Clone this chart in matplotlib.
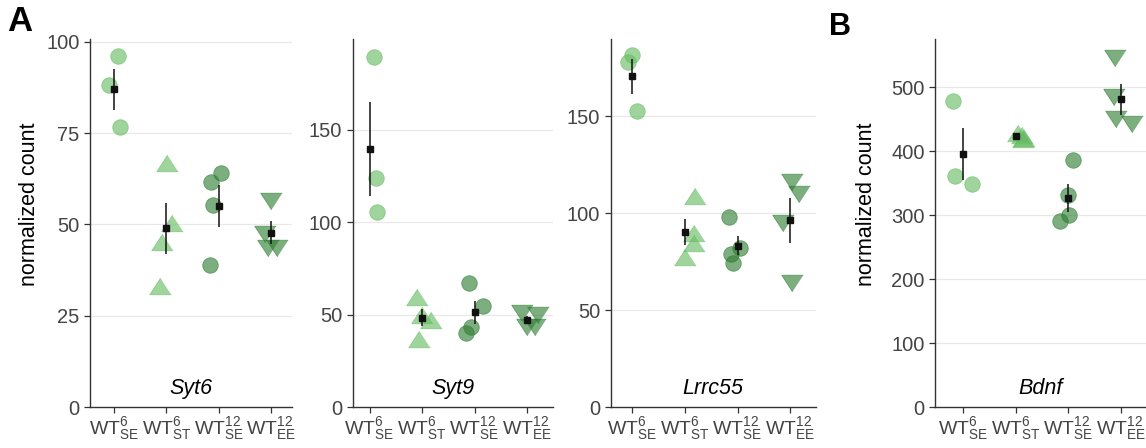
import matplotlib
matplotlib.use("Agg")
import matplotlib.pyplot as plt
import numpy as np

plt.rcParams['font.family'] = ['Liberation Sans', 'DejaVu Sans']
plt.rcParams['mathtext.fontset'] = 'custom'
plt.rcParams['mathtext.rm'] = 'Liberation Sans'
plt.rcParams['mathtext.default'] = 'regular'

# groups: WT6 SE, WT6 ST, WT12 SE, WT12 EE
groups = [r'WT$^{6}_{SE}$', r'WT$^{6}_{ST}$', r'WT$^{12}_{SE}$', r'WT$^{12}_{EE}$']

# values, one list per group
syt6 = [[88.2, 96.2, 76.8],
        [66.8, 50.3, 45.3, 33.2],
        [64.2, 61.7, 55.3, 38.9],
        [56.5, 47.5, 43.5, 43.5]]
syt6_jit = [[-0.09, 0.08, 0.11], [0.01, 0.11, -0.08, -0.13],
            [0.05, -0.14, -0.11, -0.16], [0.0, -0.11, -0.05, 0.12]]

syt9 = [[189.4, 124.0, 105.4],
        [59.5, 50.0, 47.0, 37.0],
        [67.2, 54.8, 43.4, 39.8],
        [51.0, 50.0, 43.5, 43.5]]
syt9_jit = [[0.09, 0.13, 0.14], [-0.10, 0.0, 0.17, -0.06],
            [-0.11, 0.16, -0.07, -0.16], [-0.10, 0.20, 0.0, 0.15]]

lrrc55 = [[181.2, 177.8, 152.7],
          [109.0, 89.5, 84.5, 77.5],
          [97.7, 82.0, 78.9, 74.2],
          [116.0, 110.0, 95.0, 64.0]]
lrrc55_jit = [[0.0, -0.08, 0.09], [0.2, 0.18, 0.17, 0.0],
              [-0.17, 0.05, -0.13, -0.09], [0.04, 0.16, -0.13, 0.04]]

bdnf = [[477.5, 360.3, 348.9],
        [428.0, 425.0, 420.0, 418.0],
        [385.3, 331.7, 299.4, 290.0],
        [546.0, 484.0, 450.0, 442.0]]
bdnf_jit = [[-0.2, -0.16, 0.16], [0.05, 0.12, 0.15, 0.14],
            [0.08, 0.0, 0.02, -0.15], [-0.11, -0.13, -0.09, 0.21]]

light = '#66bb62'
dark = '#2e7d32'
colors = [light, light, dark, dark]
# triangles are a bit wider than tall in the original
tri_up = [(0, 1), (-1.3, -1), (1.3, -1)]
tri_dn = [(0, -1), (-1.3, 1), (1.3, 1)]
markers = ['o', tri_up, 'o', tri_dn]
msizes = [125, 240, 125, 240]

W, H = 1146, 448
fig = plt.figure(figsize=(W / 100, H / 100), dpi=100)


def px_axes(left, right, top=39, bottom=407):
    return fig.add_axes([left / W, (H - bottom) / H, (right - left) / W, (bottom - top) / H])


def draw_panel(ax, data, jit, gene, xlim, ylim, yticks, ylabel_x=None):
    for i, (vals, jj) in enumerate(zip(data, jit)):
        x = i + np.array(jj)
        ax.scatter(x, vals, s=msizes[i], marker=markers[i], color=colors[i],
                   alpha=0.62, edgecolors=colors[i], linewidths=0.6, zorder=3)
        v = np.array(vals)
        m = v.mean()
        sem = v.std(ddof=1) / np.sqrt(len(v))
        ax.errorbar(i, m, yerr=sem, fmt='s', color='#111111', markersize=4.2,
                    elinewidth=1.1, capsize=0, zorder=5)
    ax.set_xlim(*xlim)
    ax.set_ylim(*ylim)
    ax.set_yticks(yticks)
    ax.set_xticks(range(4))
    ax.set_xticklabels(groups)
    for t in yticks[1:]:
        ax.axhline(t, color='#e8e8e8', lw=0.9, zorder=0)
    for s in ['top', 'right']:
        ax.spines[s].set_visible(False)
    for s in ['left', 'bottom']:
        ax.spines[s].set_color('#333333')
        ax.spines[s].set_linewidth(1.0)
    ax.tick_params(axis='both', colors='#333333', labelcolor='#444444',
                   length=4, width=0.9)
    ax.tick_params(axis='y', labelsize=14.5)
    ax.tick_params(axis='x', labelsize=14, pad=2)
    ax.text(0.5, 0.035, gene, transform=ax.transAxes, ha='center', va='baseline',
            fontsize=15.5, style='italic')
    if ylabel_x is not None:
        ax.set_ylabel('normalized count', fontsize=15.5)
        ax.yaxis.set_label_coords(ylabel_x, 0.55)


ax1 = px_axes(90, 292.3)
draw_panel(ax1, syt6, syt6_jit, 'Syt6', (-0.46, 3.41), (0, 100.8),
           [0, 25, 50, 75, 100], ylabel_x=-50 / 202.3)

ax2 = px_axes(352.7, 553.3)
draw_panel(ax2, syt9, syt9_jit, 'Syt9', (-0.32, 3.5), (0, 199), [0, 50, 100, 150])

ax3 = px_axes(610.7, 815.7)
draw_panel(ax3, lrrc55, lrrc55_jit, 'Lrrc55', (-0.4, 3.48), (0, 189.7), [0, 50, 100, 150])

ax4 = px_axes(935, 1146)
draw_panel(ax4, bdnf, bdnf_jit, 'Bdnf', (-0.54, 3.48), (0, 575),
           [0, 100, 200, 300, 400, 500], ylabel_x=-58 / 211)

fig.text(7 / W, 1 - 5 / H, 'A', fontsize=25, fontweight='bold', va='top', ha='left')
fig.text(829 / W, 1 - 12 / H, 'B', fontsize=22, fontweight='bold', va='top', ha='left')

fig.savefig('out.png', dpi=100)
